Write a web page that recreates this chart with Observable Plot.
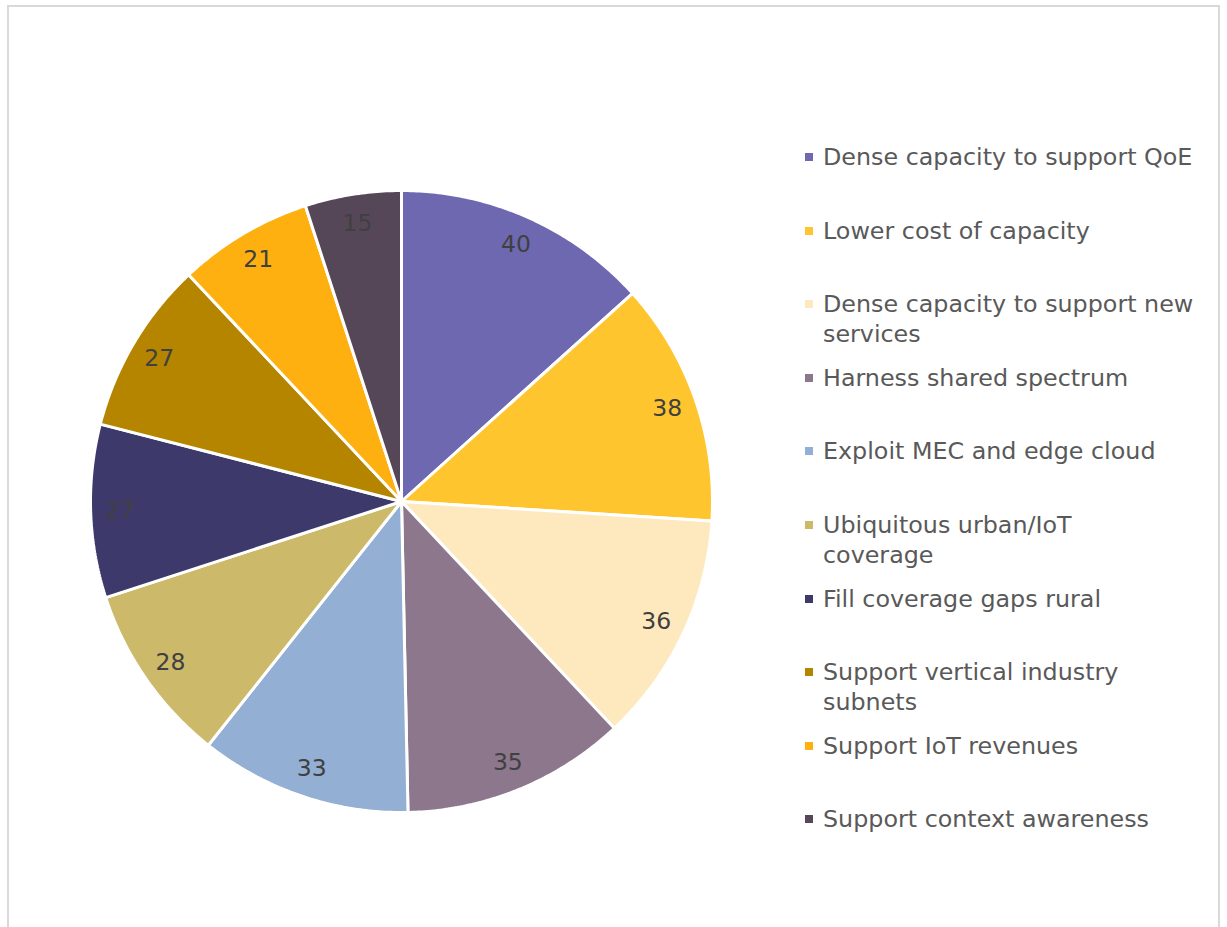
<!DOCTYPE html>
<html>
<head>
<meta charset="utf-8">
<script src="https://cdn.jsdelivr.net/npm/d3@7"></script>
<script src="https://cdn.jsdelivr.net/npm/@observablehq/plot@0.6"></script>
<style>
  html, body { margin: 0; padding: 0; background: #fff; }
  body { width: 1227px; height: 927px; position: relative; overflow: hidden; font-family: "DejaVu Sans", Verdana, sans-serif; }
  #frame { position: absolute; left: 7px; top: 5px; width: 1213px; height: 940px; border: 2px solid #d9d9d9; box-sizing: border-box; }
  #pie { position: absolute; left: 81px; top: 181px; }
  #legend { position: absolute; left: 0; top: 0; }
  .entry { position: absolute; left: 823px; width: 400px; font-size: 23.8px; line-height: 30px; color: #595959; white-space: nowrap; }
  .mark { position: absolute; left: -18px; top: 11px; width: 8px; height: 8px; }
</style>
</head>
<body>
<div id="frame"></div>
<div id="pie"></div>
<div id="legend"></div>
<script>
const categories = [
  "Dense capacity to support QoE",
  "Lower cost of capacity",
  "Dense capacity to support new services",
  "Harness shared spectrum",
  "Exploit MEC and edge cloud",
  "Ubiquitous urban/IoT coverage",
  "Fill coverage gaps rural",
  "Support vertical industry subnets",
  "Support IoT revenues",
  "Support context awareness"
];
const values = [40, 38, 36, 35, 33, 28, 27, 27, 21, 15];
const colors = ["#6E68B0", "#FFC52F", "#FEE9BF", "#8D778D", "#93AFD3", "#CCB96A", "#3D396B", "#B58500", "#FDB010", "#554757"];
const legendLines = [
  ["Dense capacity to support QoE"],
  ["Lower cost of capacity"],
  ["Dense capacity to support new", "services"],
  ["Harness shared spectrum"],
  ["Exploit MEC and edge cloud"],
  ["Ubiquitous urban/IoT", "coverage"],
  ["Fill coverage gaps rural"],
  ["Support vertical industry", "subnets"],
  ["Support IoT revenues"],
  ["Support context awareness"]
];

const table = categories.map((c, i) => ({category: c, value: values[i], color: colors[i]}));
const arcs = d3.pie().sort(null).value(d => d.value)(table);

// slice outlines in unit-circle coordinates (angle clockwise from 12 o'clock)
const outline = [];
arcs.forEach(a => {
  const cat = a.data.category;
  outline.push({category: cat, x: 0, y: 0});
  const n = Math.max(2, Math.ceil((a.endAngle - a.startAngle) / 0.01));
  for (let k = 0; k <= n; k++) {
    const t = a.startAngle + (a.endAngle - a.startAngle) * k / n;
    outline.push({category: cat, x: Math.sin(t), y: Math.cos(t)});
  }
});
const labels = arcs.map(a => {
  const m = (a.startAngle + a.endAngle) / 2;
  return {category: a.data.category, value: a.data.value, x: 0.905 * Math.sin(m), y: 0.905 * Math.cos(m)};
});

const size = 640, R = 311;
const ext = (size / 2) / R;
const chart = Plot.plot({
  width: size, height: size,
  margin: 0,
  x: {domain: [-ext, ext], axis: null},
  y: {domain: [-ext, ext], axis: null},
  color: {domain: categories, range: colors},
  style: {fontFamily: "DejaVu Sans, Verdana, sans-serif", background: "transparent"},
  marks: [
    Plot.line(outline, {x: "x", y: "y", z: "category", fill: "category", stroke: "white", strokeWidth: 3, curve: "linear-closed", strokeLinejoin: "miter"}),
    Plot.text(labels, {x: "x", y: "y", text: d => String(d.value), fill: "#404040", fontSize: 23.5})
  ]
});
document.getElementById("pie").appendChild(chart);

const legend = document.getElementById("legend");
legendLines.forEach((lines, i) => {
  const e = document.createElement("div");
  e.className = "entry";
  e.style.top = (142 + i * 73.6) + "px";
  const m = document.createElement("div");
  m.className = "mark";
  m.style.background = colors[i];
  e.appendChild(m);
  lines.forEach(l => {
    const s = document.createElement("div");
    s.textContent = l;
    e.appendChild(s);
  });
  legend.appendChild(e);
});
</script>
</body>
</html>
